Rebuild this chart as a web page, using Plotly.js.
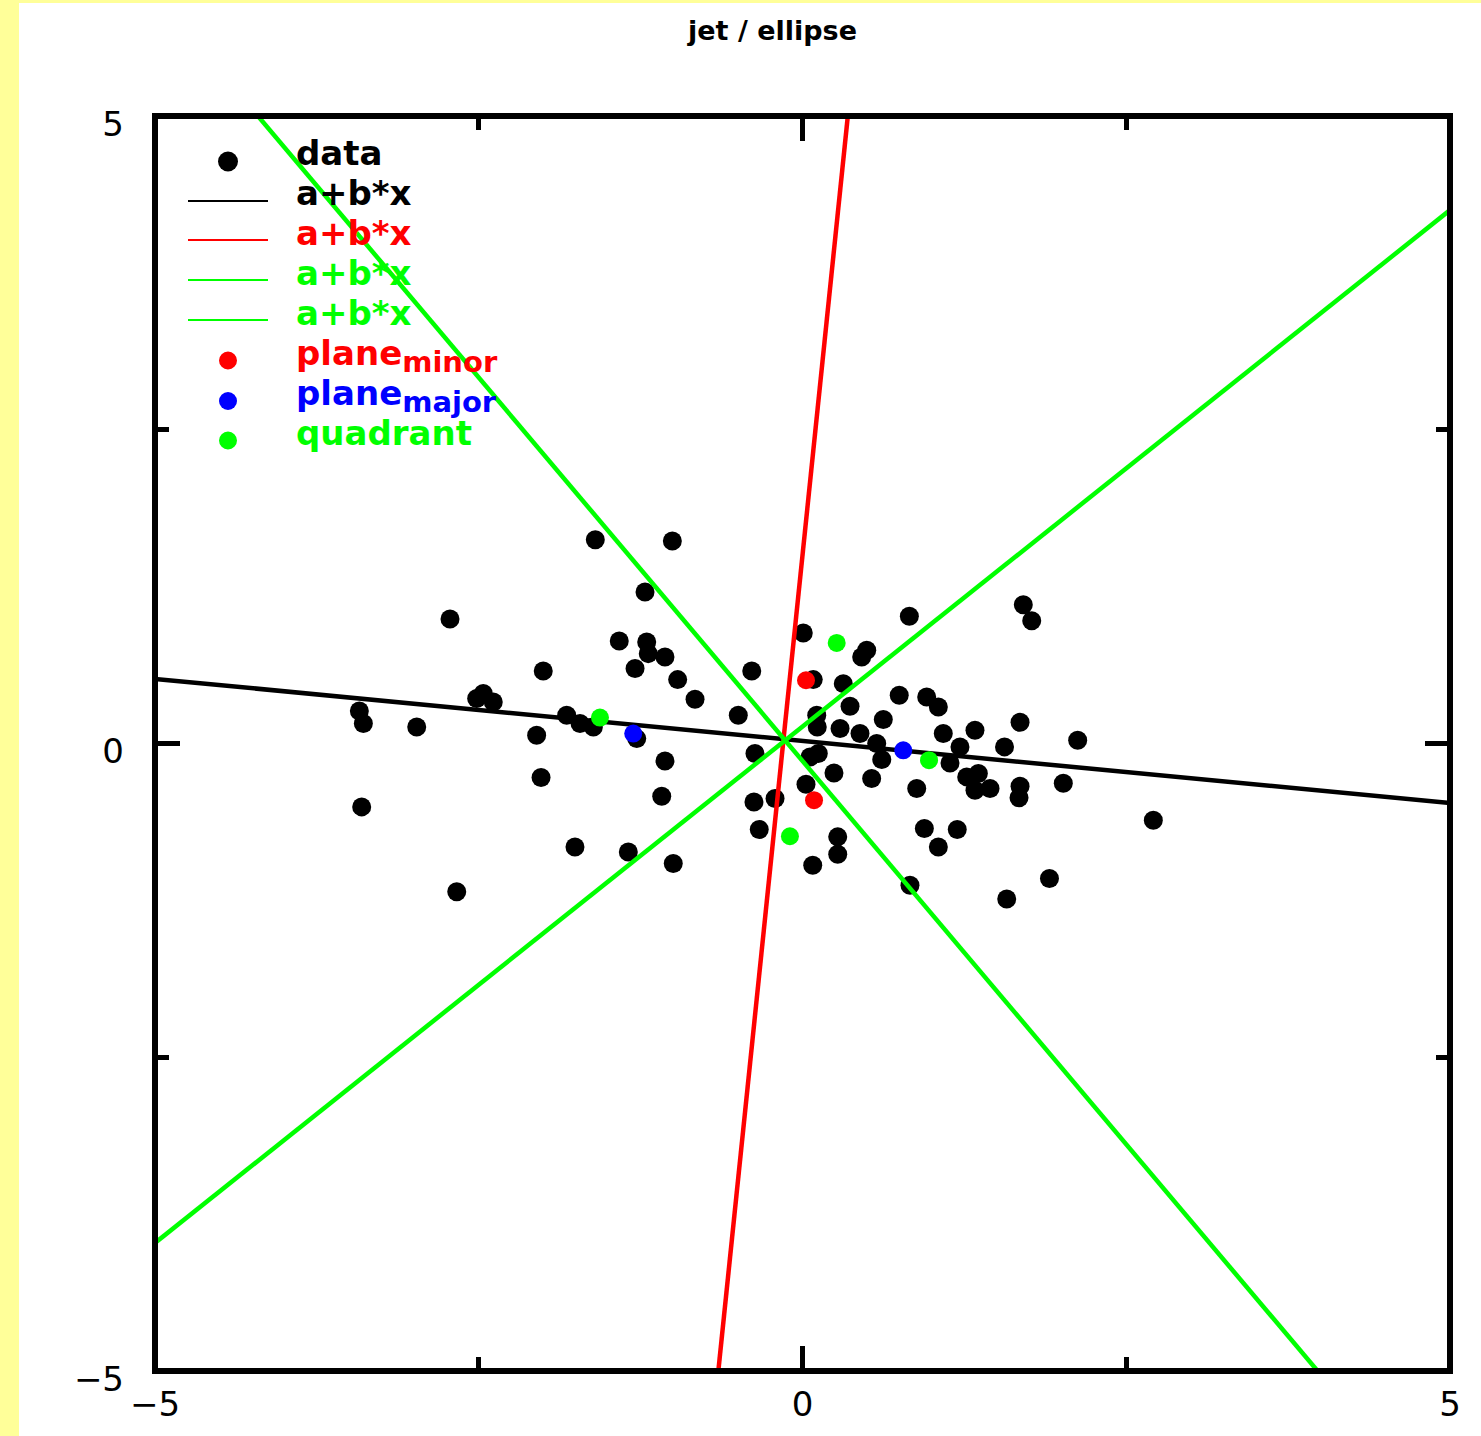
<!DOCTYPE html>
<html>
<head>
<meta charset="utf-8">
<script src="https://cdn.plot.ly/plotly-3.0.1.min.js"></script>
<style>
html, body { margin: 0; padding: 0; background: #ffff99; width: 1481px; height: 1436px; overflow: hidden; }
#chart { position: absolute; left: 19px; top: 3px; width: 1462px; height: 1433px; background: #ffffff; }
</style>
</head>
<body>
<div id="chart"></div>
<script>
// ---- data ----
const dataX = [-1.600,-1.005,-1.216,-2.722,-1.415,-1.203,-1.191,-1.062,-1.293,-2.002,-0.964,-0.830,-2.465,-2.516,-2.388,-3.422,-3.391,-2.979,-2.053,-1.821,-1.718,-1.615,-1.280,-1.062,-1.087,-2.019,-3.404,-1.757,-1.345,-0.998,-2.670,
  0.825,1.705,1.770,0.006,0.496,0.457,-0.392,0.083,0.315,0.747,0.959,1.049,0.367,-0.496,0.110,0.114,0.290,0.624,1.680,1.087,1.332,0.444,0.573,1.216,2.125,1.560,-0.367,0.058,0.122,0.612,1.139,0.243,0.534,1.268,1.358,1.332,1.448,1.680,1.672,2.014,0.882,0.027,-0.375,-0.212,-0.334,0.272,0.272,0.941,1.195,1.049,0.079,0.830,1.907,1.577,2.709];
const dataY = [1.624,1.613,1.207,0.992,0.817,0.809,0.716,0.689,0.597,0.578,0.509,0.352,0.398,0.358,0.331,0.259,0.159,0.132,0.066,0.225,0.159,0.132,0.039,-0.139,-0.420,-0.271,-0.505,-0.824,-0.864,-0.956,-1.182,
  1.014,1.105,0.978,0.881,0.743,0.689,0.578,0.509,0.477,0.384,0.371,0.291,0.297,0.225,0.225,0.132,0.119,0.191,0.169,0.079,0.106,0.079,0.000,-0.027,0.026,-0.027,-0.080,-0.107,-0.080,-0.128,-0.155,-0.235,-0.279,-0.266,-0.239,-0.372,-0.359,-0.341,-0.432,-0.317,-0.359,-0.325,-0.466,-0.438,-0.685,-0.744,-0.882,-0.677,-0.685,-0.824,-0.970,-1.129,-1.076,-1.239,-0.611];

// fitted lines y = a + b*x
const lineNames  = ['a+b*x', 'a+b*x', 'a+b*x', 'a+b*x'];
const lineA      = [0.02, 1.50, 0.135, -0.139];
const lineB      = [-0.099, 10.0, 0.823, -1.222];
const lineColors = ['#000000', '#ff0000', '#00ff00', '#00ff00'];
const lineXRange = [-5, 5];

const planeMinorX = [0.027, 0.089];
const planeMinorY = [0.504, -0.452];
const planeMajorX = [-1.307, 0.778];
const planeMajorY = [0.079, -0.054];
const quadrantX = [-1.564, 0.264, 0.977, -0.097];
const quadrantY = [0.207, 0.801, -0.133, -0.739];

const axisTickVals = [-5, 0, 5];
const axisTickText = ['\u22125', '0', '5'];
const axisMinorVals = [-2.5, 2.5];

// ---- geometry helpers (page pixels -> paper fraction) ----
const PL = 155, PR = 1450, PT = 116, PB = 1371;
const px = p => (p - PL) / (PR - PL);
const py = p => (PB - p) / (PB - PT);

const traces = [];
traces.push({ x: dataX, y: dataY, type: 'scatter', mode: 'markers', name: 'data',
  marker: { color: '#000000', size: 19 }, showlegend: false });
for (let i = 0; i < lineA.length; i++) {
  traces.push({ x: lineXRange, y: lineXRange.map(v => lineA[i] + lineB[i] * v),
    type: 'scatter', mode: 'lines', name: lineNames[i],
    line: { color: lineColors[i], width: 4.5 }, showlegend: false });
}
traces.push({ x: planeMinorX, y: planeMinorY, type: 'scatter', mode: 'markers', name: 'plane minor',
  marker: { color: '#ff0000', size: 18 }, showlegend: false });
traces.push({ x: planeMajorX, y: planeMajorY, type: 'scatter', mode: 'markers', name: 'plane major',
  marker: { color: '#0000ff', size: 18 }, showlegend: false });
traces.push({ x: quadrantX, y: quadrantY, type: 'scatter', mode: 'markers', name: 'quadrant',
  marker: { color: '#00ff00', size: 18 }, showlegend: false });

// ---- custom legend ----
const legFont = 'DejaVu Sans, sans-serif';
const legSize = 34;
const subSpan = t => '<sub><span style="font-size:29px">' + t + '</span></sub>';
const legend = [
  { text: 'data', color: '#000000', sym: 'dot', symColor: '#000000', base: 165, symY: 161.5, d: 20 },
  { text: 'a+b*x', color: '#000000', sym: 'line', symColor: '#000000', base: 205, symY: 201 },
  { text: 'a+b*x', color: '#ff0000', sym: 'line', symColor: '#ff0000', base: 245, symY: 240 },
  { text: 'a+b*x', color: '#00ff00', sym: 'line', symColor: '#00ff00', base: 285, symY: 280 },
  { text: 'a+b*x', color: '#00ff00', sym: 'line', symColor: '#00ff00', base: 325, symY: 320 },
  { text: 'plane' + subSpan('minor'), color: '#ff0000', sym: 'dot', symColor: '#ff0000', base: 365, symY: 360.5, d: 18 },
  { text: 'plane' + subSpan('major'), color: '#0000ff', sym: 'dot', symColor: '#0000ff', base: 405, symY: 401, d: 18 },
  { text: 'quadrant', color: '#00ff00', sym: 'dot', symColor: '#00ff00', base: 445, symY: 440.5, d: 18 }
];
const shapes = [];
const annotations = [];
legend.forEach(it => {
  if (it.sym === 'line') {
    shapes.push({ type: 'line', xref: 'paper', yref: 'paper', x0: px(188), x1: px(268), y0: py(it.symY), y1: py(it.symY),
      line: { color: it.symColor, width: 2 } });
  } else {
    const r = it.d / 2;
    shapes.push({ type: 'circle', xref: 'paper', yref: 'paper', x0: px(228 - r), x1: px(228 + r), y0: py(it.symY + r), y1: py(it.symY - r),
      fillcolor: it.symColor, line: { width: 0 } });
  }
  annotations.push({ xref: 'paper', yref: 'paper', x: px(294), y: py(it.base - 0.928 * legSize - 2),
    xanchor: 'left', yanchor: 'top', showarrow: false, align: 'left',
    text: '<b>' + it.text + '</b>', font: { family: legFont, size: legSize, color: it.color } });
});
// frame
shapes.push({ type: 'rect', xref: 'paper', yref: 'paper', x0: 0, x1: 1, y0: 0, y1: 1,
  line: { color: '#000000', width: 6 }, layer: 'above' });

const axisCommon = {
  range: [-5, 5], showgrid: false, zeroline: false, showline: false,
  tickmode: 'array', tickvals: axisTickVals, ticktext: axisTickText,
  ticks: 'inside', ticklen: 25, tickwidth: 5, tickcolor: '#000000', mirror: 'ticks',
  tickfont: { family: 'DejaVu Sans, sans-serif', size: 34, color: '#000000' },
  minor: { tickmode: 'array', tickvals: axisMinorVals, ticks: 'inside', ticklen: 14, tickwidth: 5, tickcolor: '#000000', showgrid: false }
};

const layout = {
  width: 1462, height: 1433,
  paper_bgcolor: '#ffffff', plot_bgcolor: '#ffffff',
  margin: { l: PL - 19, r: 1481 - PR, t: PT - 3, b: 1436 - PB, pad: 0 },
  showlegend: false,
  title: { text: '<b>jet / ellipse</b>', font: { family: 'DejaVu Sans, sans-serif', size: 27, color: '#000000' },
    xref: 'container', yref: 'container', x: (772.5 - 19) / 1462, xanchor: 'center', y: 1 - 18.5 / 1433, yanchor: 'top' },
  xaxis: Object.assign({}, axisCommon, { ticklabelstandoff: 10 }),
  yaxis: Object.assign({}, axisCommon, { ticklabelstandoff: 30, ticklabelshift: 8 }),
  shapes: shapes,
  annotations: annotations
};

Plotly.newPlot('chart', traces, layout, { displayModeBar: false, staticPlot: true });
</script>
</body>
</html>
